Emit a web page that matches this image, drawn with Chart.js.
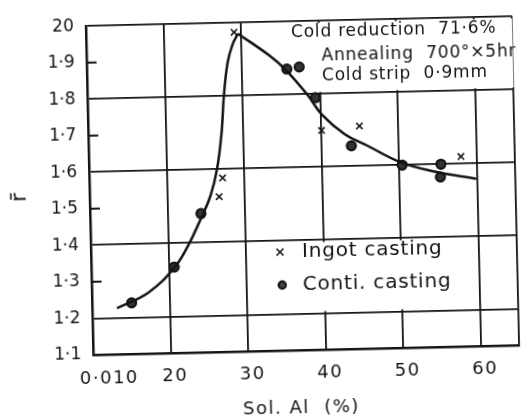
<!DOCTYPE html>
<html>
<head>
<meta charset="utf-8">
<script src="https://cdn.jsdelivr.net/npm/chart.js@4.4.1/dist/chart.umd.min.js"></script>
<style>
  html, body { margin: 0; padding: 0; background: #fff; overflow: hidden; }
  #wrap { width: 523px; height: 417px; transform: rotate(-1.3deg); transform-origin: 50% 50%; }
</style>
</head>
<body>
<div id="wrap"><canvas id="rbar" width="523" height="417"></canvas></div>
<script>
const ink = '#141414';
const FONT = '"DejaVu Sans", sans-serif';

// Sol. Al in units of 0.001 %, r-bar values
const ingotAl = [26.7, 27.2, 29.1, 40.1, 45.0, 58.0];
const ingotR  = [1.525, 1.576, 1.974, 1.70, 1.71, 1.62];

const contiAl = [15.1, 20.7, 24.3, 35.8, 37.4, 39.4, 43.9, 50.4, 55.4, 55.3];
const contiR  = [1.24, 1.335, 1.48, 1.87, 1.875, 1.79, 1.656, 1.60, 1.60, 1.565];

// trend curve, rising branch up to the peak and falling branch after it
const riseAl = [13.2, 17.3, 20.7, 22.5, 24.3, 25.6, 26.5, 27.2, 27.6, 28.2, 28.9, 29.6];
const riseR  = [1.226, 1.267, 1.333, 1.391, 1.467, 1.529, 1.60, 1.70, 1.80, 1.893, 1.942, 1.970];
const fallAl = [29.6, 33.6, 35.7, 38.4, 40.2, 43.1, 46.0, 50.2, 54.4, 59.9];
const fallR  = [1.970, 1.908, 1.867, 1.798, 1.743, 1.688, 1.655, 1.608, 1.581, 1.558];

const xTicks = [10, 20, 30, 40, 50, 60];
const xTickLabels = ['0·010', '20', '30', '40', '50', '60'];
const yTickLabels = ['1·1', '1·2', '1·3', '1·4', '1·5', '1·6', '1·7', '1·8', '1·9', '20'];

const noteLines = ['Cold reduction  71·6%', 'Annealing  700°×5hr', 'Cold strip  0·9mm'];

const pts = (xs, ys) => xs.map((x, i) => ({ x, y: ys[i] }));

function label(ctx, str, x, y, size, align = 'left', spacing = 0) {
  ctx.font = `${size}px ${FONT}`;
  ctx.letterSpacing = spacing + 'px';
  ctx.textAlign = align;
  ctx.textBaseline = 'middle';
  ctx.fillStyle = ink;
  ctx.fillText(str, x, y);
}

const paperMarks = {
  id: 'paperMarks',
  beforeDatasetsDraw(chart) {
    const { ctx, chartArea: a, scales: { x, y } } = chart;
    ctx.save();
    // blank panels behind the note and the legend
    ctx.fillStyle = '#fff';
    const nTop = y.getPixelForValue(2.0) + 2, nBot = y.getPixelForValue(1.8) - 2;
    ctx.fillRect(x.getPixelForValue(34), nTop, a.right - x.getPixelForValue(34), nBot - nTop);
    const lTop = y.getPixelForValue(1.4) + 2, lBot = y.getPixelForValue(1.2) - 2;
    ctx.fillRect(x.getPixelForValue(31), lTop, x.getPixelForValue(58.5) - x.getPixelForValue(31), lBot - lTop);
    // short inner ticks at the odd tenths
    ctx.strokeStyle = ink;
    ctx.lineWidth = 2;
    y.ticks.forEach((t, i) => {
      if (i === 0 || i % 2 === 1) return;
      const py = y.getPixelForValue(t.value);
      ctx.beginPath();
      ctx.moveTo(a.left, py);
      ctx.lineTo(a.left + 10, py);
      ctx.stroke();
    });
    ctx.restore();
  },
  afterDraw(chart) {
    const { ctx, chartArea: a, scales: { x } } = chart;
    ctx.save();
    // x tick labels
    xTicks.forEach((v, i) => {
      const px = x.getPixelForValue(v);
      if (i === 0) label(ctx, xTickLabels[i], px - 14, a.bottom + 24, 18, 'left', 1.5);
      else label(ctx, xTickLabels[i], px + 4, a.bottom + 23, 18, 'center', 1.5);
    });
    // axis titles
    label(ctx, 'Sol. Al  (%)', 297, 409, 18, 'center', 1.5);
    ctx.save();
    ctx.translate(20, 192);
    ctx.rotate(-Math.PI / 2);
    label(ctx, 'r̄', 0, 0, 22, 'center');
    ctx.restore();
    // process note
    label(ctx, noteLines[0], 295, 34, 17, 'left', 0.8);
    label(ctx, noteLines[1], 325, 58, 17, 'left', 0.8);
    label(ctx, noteLines[2], 325, 78, 17, 'left', 0.8);
    // legend
    const ds = chart.data.datasets;
    ctx.strokeStyle = ink;
    ctx.lineWidth = 1.6;
    ctx.beginPath();
    ctx.moveTo(275.5, 249); ctx.lineTo(282.5, 256);
    ctx.moveTo(282.5, 249); ctx.lineTo(275.5, 256);
    ctx.stroke();
    label(ctx, ds[2].label, 301, 252.5, 20, 'left', 0.8);
    ctx.lineWidth = 2.2;
    ctx.fillStyle = '#444';
    ctx.beginPath();
    ctx.arc(280.5, 285.5, 3.6, 0, Math.PI * 2);
    ctx.fill();
    ctx.stroke();
    label(ctx, ds[3].label, 301, 285.5, 20, 'left', 0.8);
    ctx.restore();
  }
};

new Chart(document.getElementById('rbar'), {
  type: 'scatter',
  data: {
    datasets: [
      { label: 'trend', data: pts(riseAl, riseR), showLine: true, pointRadius: 0,
        borderColor: ink, borderWidth: 2.5, tension: 0.4 },
      { label: 'trend', data: pts(fallAl, fallR), showLine: true, pointRadius: 0,
        borderColor: ink, borderWidth: 2.5, tension: 0.4 },
      { label: 'Ingot casting', data: pts(ingotAl, ingotR), pointStyle: 'crossRot',
        pointRadius: 4.5, borderWidth: 1.6, borderColor: ink },
      { label: 'Conti. casting', data: pts(contiAl, contiR), pointStyle: 'circle',
        pointRadius: 4.5, borderWidth: 2.2, borderColor: ink, backgroundColor: '#333' }
    ]
  },
  options: {
    responsive: false,
    animation: false,
    devicePixelRatio: 1,
    layout: { padding: { top: 18, right: 0, bottom: 66, left: 0 } },
    plugins: { legend: { display: false }, tooltip: { enabled: false } },
    scales: {
      x: {
        type: 'linear', min: 10, max: 65,
        ticks: { stepSize: 10, display: false },
        grid: { color: ink, lineWidth: 1.8, drawTicks: false },
        border: { color: ink, width: 2.5 },
        afterFit: (s) => { s.height = 0; }
      },
      y: {
        min: 1.1, max: 2.0,
        ticks: {
          stepSize: 0.1, padding: 12, color: ink,
          font: { family: FONT, size: 17 },
          callback: (v, i) => yTickLabels[i]
        },
        grid: {
          drawTicks: false,
          lineWidth: 1.8,
          color: (c) => (c.index % 2 === 1 ? ink : 'rgba(0,0,0,0)')
        },
        border: { color: ink, width: 2.5 },
        afterFit: (s) => { s.width = 90; }
      }
    }
  },
  plugins: [paperMarks]
});
</script>
</body>
</html>
